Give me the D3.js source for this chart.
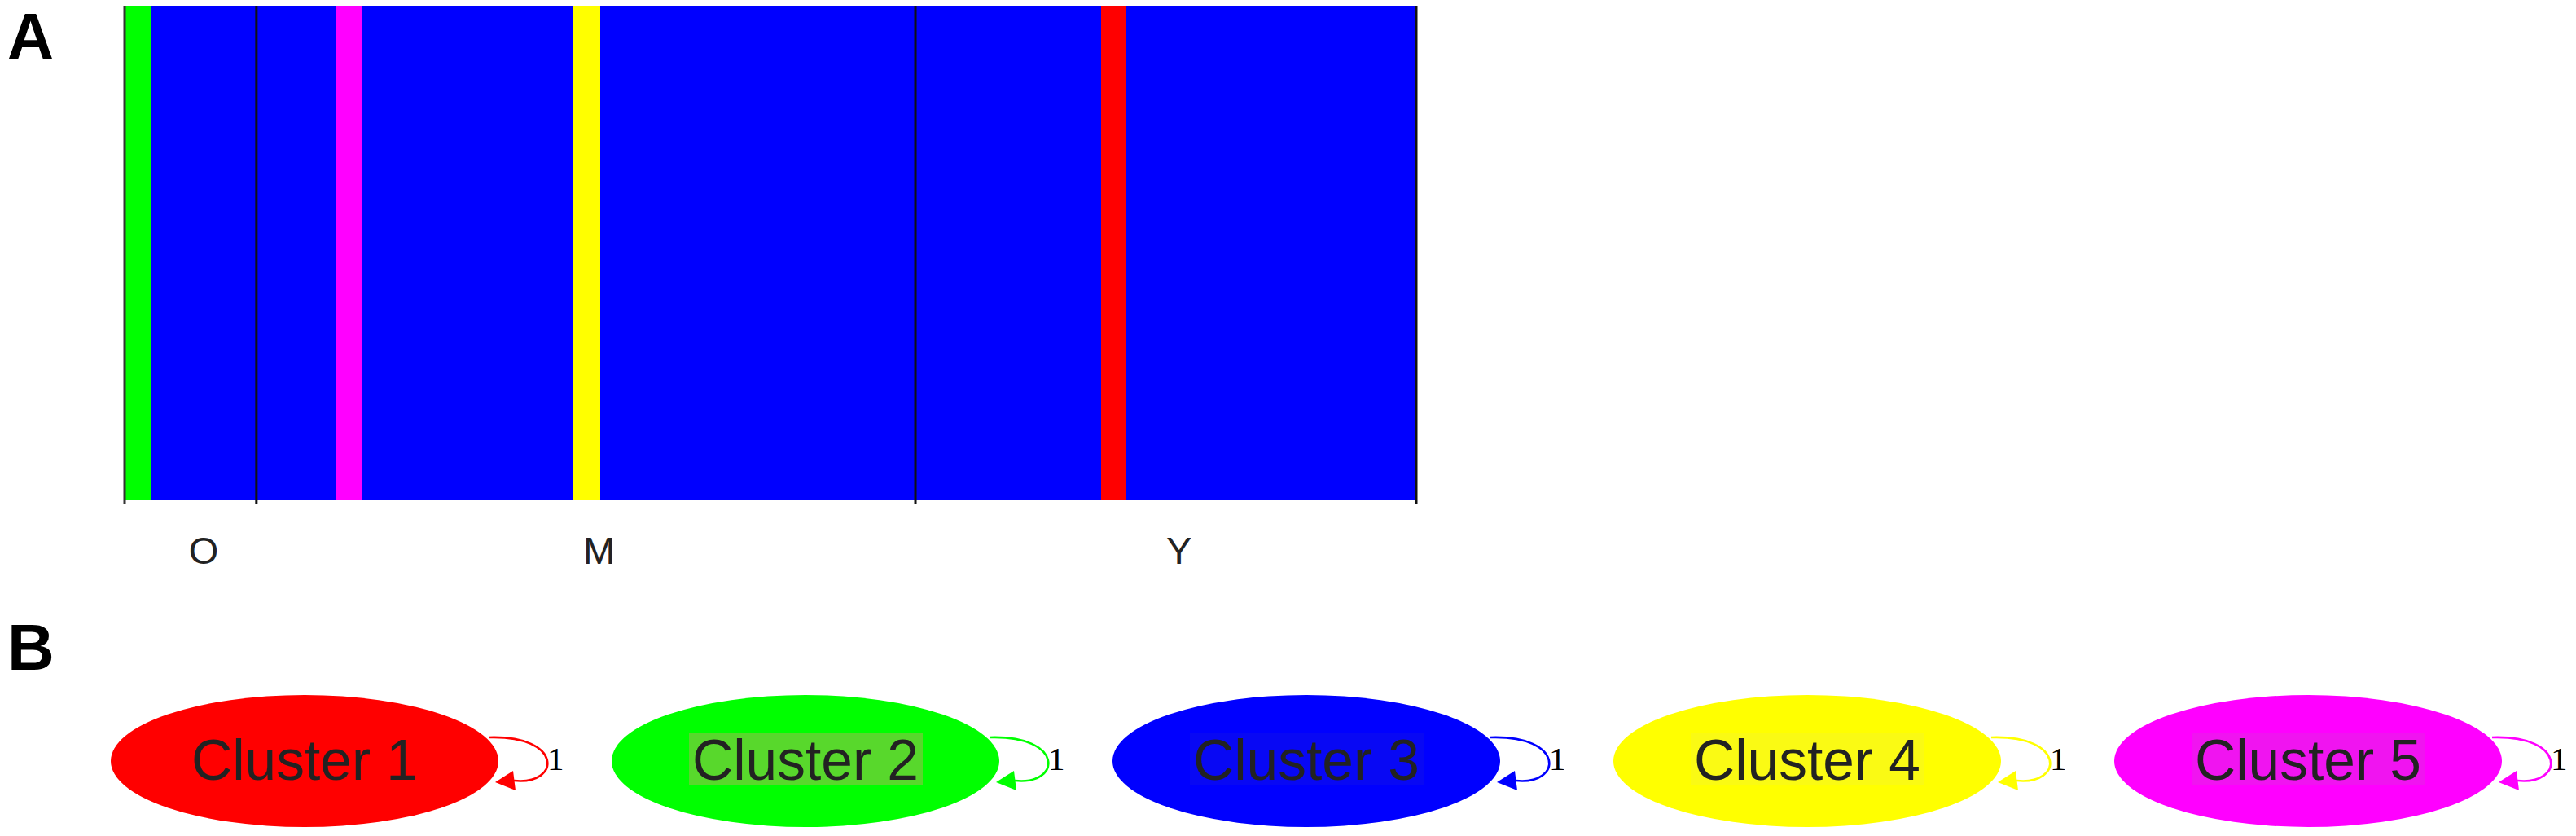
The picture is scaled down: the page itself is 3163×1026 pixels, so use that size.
<!DOCTYPE html>
<html><head><meta charset="utf-8">
<script src="https://cdn.jsdelivr.net/npm/d3@7"></script>
<style>html,body{margin:0;padding:0;background:#fff;} svg{display:block;}</style>
</head><body><svg id="chart" width="3163" height="1026"></svg>
<script>
// ---------- data ----------
const groups = ["O", "M", "Y"];
const groupSizes = [5, 25, 19];
const clusterNames = ["Cluster 1", "Cluster 2", "Cluster 3", "Cluster 4", "Cluster 5"];
const clusterColors = ["#ff0000", "#00ff00", "#0000ff", "#ffff00", "#ff00ff"];
const labelBoxColors = [null, "#58d82c", "#0808f4", "#fafa14", "#f014f0"];
// cluster (1-based) each individual fully belongs to, in plot order
const membershipO = [2, 3, 3, 3, 3];
const membershipM = [3, 3, 3, 5, 3, 3, 3, 3, 3, 3, 3, 3, 4, 3, 3, 3, 3, 3, 3, 3, 3, 3, 3, 3, 3];
const membershipY = [3, 3, 3, 3, 3, 3, 3, 1, 3, 3, 3, 3, 3, 3, 3, 3, 3, 3, 3];
const selfLoopWeights = [1, 1, 1, 1, 1];

// ---------- setup ----------
const svg = d3.select("#chart");
svg.append("rect").attr("width", 3163).attr("height", 1026).attr("fill", "#fff");

const membership = [...membershipO, ...membershipM, ...membershipY];
const ids = membership.map((_, i) => i);
const table = membership.map((c, i) => {
  const row = { id: i };
  clusterNames.forEach((n, k) => row[n] = (k + 1 === c) ? 1 : 0);
  return row;
});
const stacked = d3.stack().keys(clusterNames)(table);

const x = d3.scaleBand().domain(ids).range([153, 1739]).padding(0);
const y = d3.scaleLinear().domain([0, 1]).range([614, 7]);

// panel letters
svg.append("text").attr("x", 9).attr("y", 72).text("A")
  .attr("font-family", "Liberation Sans, Arial, sans-serif").attr("font-weight", "bold")
  .attr("font-size", 79).attr("fill", "#000");
svg.append("text").attr("x", 9).attr("y", 822).text("B")
  .attr("font-family", "Liberation Sans, Arial, sans-serif").attr("font-weight", "bold")
  .attr("font-size", 80).attr("fill", "#000");

// ---------- panel A: structure bars ----------
const gA = svg.append("g").attr("shape-rendering", "crispEdges");
stacked.forEach((layer, k) => {
  gA.selectAll(null).data(layer.filter(d => d[1] - d[0] > 0)).enter().append("rect")
    .attr("x", d => Math.round(x(d.data.id)))
    .attr("width", d => Math.round(x(d.data.id) + x.bandwidth()) - Math.round(x(d.data.id)) + 1)
    .attr("y", d => y(d[1]))
    .attr("height", d => y(d[0]) - y(d[1]))
    .attr("fill", clusterColors[k]);
});

// group boundaries
const starts = [];
let acc = 0;
groupSizes.forEach(s => { starts.push(acc); acc += s; });
const boundaries = starts.map(s => x(s)).concat([x.range()[1]]);
const gL = svg.append("g");
gL.selectAll(null).data(boundaries).enter().append("line")
  .attr("x1", d => d).attr("x2", d => d)
  .attr("y1", y(1)).attr("y2", y(0) + 5)
  .attr("stroke", (d, i) => i === 0 ? "#333" : "#111")
  .attr("stroke-width", 3);

// group labels
gL.selectAll(null).data(groups).enter().append("text")
  .attr("x", (g, i) => (x(starts[i]) + x(starts[i] + groupSizes[i] - 1) + x.bandwidth()) / 2 + x.bandwidth() / 2)
  .attr("y", 692)
  .attr("text-anchor", "middle")
  .attr("font-family", "Liberation Sans, Arial, sans-serif")
  .attr("font-size", 47)
  .attr("fill", "#222")
  .text(d => d);

// ---------- panel B: cluster nodes ----------
const xn = d3.scalePoint().domain(clusterNames).range([374, 2834]);
const cy = 934;
const gB = svg.append("g");
const nodes = gB.selectAll(null).data(clusterNames).enter().append("g")
  .attr("transform", d => `translate(${xn(d)},${cy})`);

nodes.append("path")
  .attr("d", "M226,-29 C318,-32 315,30 257,24")
  .attr("fill", "none")
  .attr("stroke", (d, i) => clusterColors[i])
  .attr("stroke-width", 2.6);
nodes.append("path")
  .attr("d", "M234,26 L256,12 L259,36 Z")
  .attr("fill", (d, i) => clusterColors[i]);

nodes.append("ellipse")
  .attr("rx", 238).attr("ry", 81)
  .attr("fill", (d, i) => clusterColors[i]);

nodes.filter((d, i) => labelBoxColors[i] !== null).append("rect")
  .attr("x", -143).attr("y", -34).attr("width", 287).attr("height", 63)
  .attr("fill", (d) => labelBoxColors[clusterNames.indexOf(d)]);

nodes.append("text")
  .attr("x", 0).attr("y", 23)
  .attr("text-anchor", "middle")
  .attr("font-family", "Liberation Sans, Arial, sans-serif")
  .attr("font-size", 71)
  .attr("textLength", 278)
  .attr("lengthAdjust", "spacingAndGlyphs")
  .attr("fill", "#222")
  .text(d => d);

nodes.append("text")
  .attr("x", 298).attr("y", 11)
  .attr("font-family", "Liberation Serif, Times New Roman, serif")
  .attr("font-size", 41)
  .attr("fill", "#000")
  .text((d, i) => selfLoopWeights[i]);
</script>
</body></html>
